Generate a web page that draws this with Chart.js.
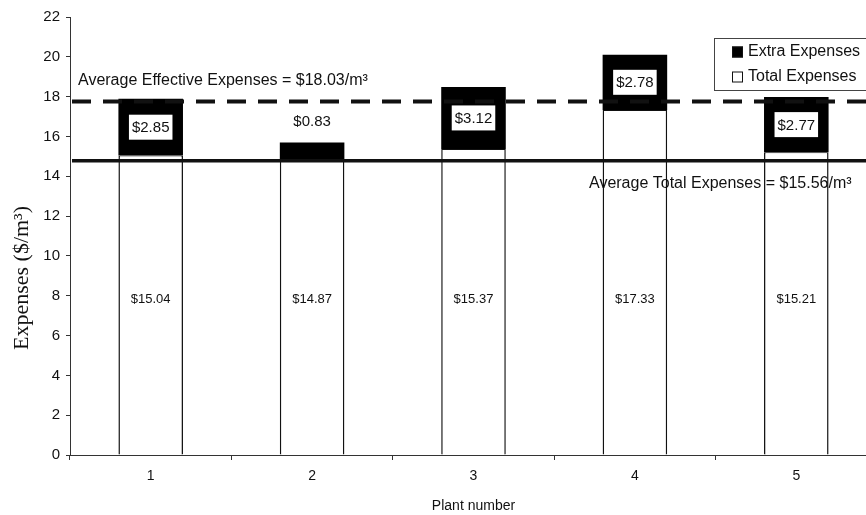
<!DOCTYPE html>
<html>
<head>
<meta charset="utf-8">
<script src="https://cdn.jsdelivr.net/npm/chart.js@4.4.0/dist/chart.umd.min.js"></script>
<style>
    html, body { margin: 0; padding: 0; background: #fff; overflow: hidden; }
    #wrap { position: relative; width: 900px; height: 515px; }
</style>
</head>
<body>
<div id="wrap"><canvas id="plant-expenses"></canvas></div>
<script>
// Data
const plants = ["1", "2", "3", "4", "5"];
const totalExpenses = [15.04, 14.87, 15.37, 17.33, 15.21];
const extraExpenses = [2.85, 0.83, 3.12, 2.78, 2.77];

// y axis 0..22 step 2
const yMin = 0;
const yMax = 22;
const yStep = 2;

// reference lines, as they sit on the plot
const avgLevels = [17.75, 14.78];
const avgTexts = [
    "Average Effective Expenses = $18.03/m\u00b3",
    "Average Total Expenses = $15.56/m\u00b3",
];

const sans = "'Liberation Sans', Arial, sans-serif";
const serif = "'Liberation Serif', 'Times New Roman', serif";
const ink = "#111";

const money = (v) => "$" + v.toFixed(2);

// Draws reference lines, bar labels, legend and y title
const overlay = {
    id: "overlay",
    afterDatasetsDraw(chart) {
        const { ctx, chartArea, scales } = chart;
        const y = scales.y;
        ctx.save();

        // average lines
        const yEff = y.getPixelForValue(avgLevels[0]);
        const yTot = y.getPixelForValue(avgLevels[1]);
        ctx.strokeStyle = ink;
        ctx.lineWidth = 4;
        ctx.setLineDash([19, 12]);
        ctx.beginPath();
        ctx.moveTo(chartArea.left + 2, yEff);
        ctx.lineTo(chart.width, yEff);
        ctx.stroke();
        ctx.setLineDash([]);
        ctx.lineWidth = 3.5;
        ctx.beginPath();
        ctx.moveTo(chartArea.left + 2, yTot);
        ctx.lineTo(chart.width, yTot);
        ctx.stroke();

        ctx.fillStyle = ink;
        ctx.font = "16px " + sans;
        ctx.textBaseline = "middle";
        ctx.textAlign = "left";
        ctx.fillText(avgTexts[0], chartArea.left + 8, yEff - 21);
        ctx.fillText(avgTexts[1], 589, yTot + 23);

        // labels on the white (total) part, all on one row
        const totalMeta = chart.getDatasetMeta(0);
        const extraMeta = chart.getDatasetMeta(1);
        const rowY = y.getPixelForValue(7.8);
        ctx.textAlign = "center";
        ctx.font = "13px " + sans;
        totalMeta.data.forEach((bar, i) => {
            ctx.fillStyle = ink;
            ctx.fillText(money(totalExpenses[i]), bar.x, rowY);
        });

        // labels on the black (extra) part
        ctx.font = "15px " + sans;
        extraMeta.data.forEach((bar, i) => {
            const txt = money(extraExpenses[i]);
            const h = bar.base - bar.y;
            if (h < 34) {
                ctx.fillStyle = ink;
                ctx.fillText(txt, bar.x, bar.y - 21);
                return;
            }
            const cy = (bar.y + bar.base) / 2;
            const w = ctx.measureText(txt).width + 6;
            ctx.fillStyle = "#fff";
            ctx.fillRect(bar.x - w / 2, cy - 12.5, w, 25);
            ctx.fillStyle = ink;
            ctx.fillText(txt, bar.x, cy + 1);
        });

        // legend
        ctx.strokeStyle = "#444";
        ctx.lineWidth = 1;
        ctx.strokeRect(714.5, 38.5, 200, 52);
        const rows = [
            { label: chart.data.datasets[1].label, fill: "#000" },
            { label: chart.data.datasets[0].label, fill: "#fff" },
        ];
        ctx.textAlign = "left";
        ctx.font = "16px " + sans;
        rows.forEach((r, i) => {
            const ry = 52 + i * 25;
            ctx.fillStyle = r.fill;
            ctx.fillRect(732, ry - 5.5, 11, 11);
            ctx.strokeStyle = ink;
            ctx.strokeRect(732.5, ry - 5, 10, 10);
            ctx.fillStyle = ink;
            ctx.fillText(r.label, 748, ry);
        });

        // y title
        ctx.translate(22, 278);
        ctx.rotate(-Math.PI / 2);
        ctx.textAlign = "center";
        ctx.font = "22px " + serif;
        ctx.fillText("Expenses ($/m\u00b3)", 0, 0);

        ctx.restore();
    },
};

const ctx = document.getElementById("plant-expenses").getContext("2d");
const chart = new Chart(ctx, {
    type: "bar",
    data: {
        labels: plants,
        datasets: [
            {
                label: "Total Expenses",
                data: totalExpenses,
                backgroundColor: "#fff",
                borderColor: ink,
                borderWidth: { left: 1.5, right: 1.5, top: 1, bottom: 0 },
                borderSkipped: false,
                categoryPercentage: 1,
                barPercentage: 0.4,
            },
            {
                label: "Extra Expenses",
                data: extraExpenses,
                backgroundColor: "#000",
                borderWidth: 0,
                categoryPercentage: 1,
                barPercentage: 0.4,
            },
        ],
    },
    options: {
        responsive: true,
        maintainAspectRatio: false,
        animation: false,
        layout: {
            padding: { top: 17, right: 23, left: 0, bottom: 0 },
        },
        scales: {
            x: {
                stacked: true,
                border: { color: "#333", width: 1 },
                grid: {
                    display: true,
                    drawOnChartArea: false,
                    offset: true,
                    tickLength: 5,
                    color: "#333",
                },
                ticks: {
                    color: ink,
                    padding: 8,
                    font: { size: 14, family: sans },
                },
                title: {
                    display: true,
                    text: "Plant number",
                    color: ink,
                    font: { size: 14, family: sans },
                    padding: { top: 0, bottom: 0 },
                },
                afterFit: (s) => { s.height = 60; },
            },
            y: {
                stacked: true,
                min: yMin,
                max: yMax,
                border: { color: "#333", width: 1 },
                grid: {
                    display: true,
                    drawOnChartArea: false,
                    tickLength: 4,
                    color: "#333",
                },
                ticks: {
                    stepSize: yStep,
                    color: ink,
                    padding: 6,
                    font: { size: 15, family: sans },
                },
                afterFit: (s) => { s.width = 70; },
            },
        },
        plugins: {
            legend: { display: false },
            tooltip: { enabled: false },
        },
    },
    plugins: [overlay],
});
</script>
</body>
</html>
